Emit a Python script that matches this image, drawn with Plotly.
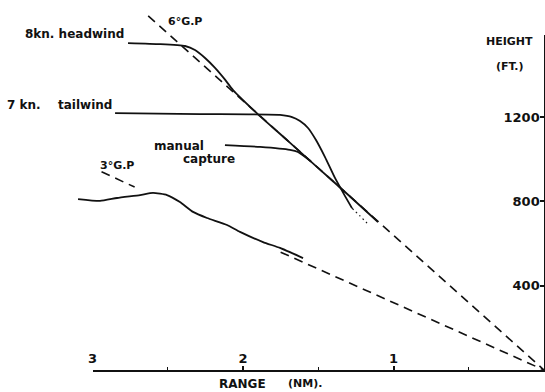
import plotly.graph_objects as go

# ---------------- data (range in NM, height in FT) ----------------
headwind_range = [2.764, 2.551, 2.385, 2.319, 2.252, 2.186, 2.118, 2.066, 1.9, 1.7, 1.5, 1.3, 1.103]
headwind_height = [1551, 1546, 1537, 1518, 1480, 1433, 1376, 1328, 1213, 1086, 958, 830, 702]

tailwind_range = [2.85, 2.286, 1.754, 1.674, 1.621, 1.568, 1.515, 1.455, 1.389, 1.322, 1.276]
tailwind_height = [1219, 1214, 1210, 1200, 1181, 1148, 1091, 1010, 911, 825, 768]
tailwind_dot_range = [1.276, 1.223, 1.176]
tailwind_dot_height = [768, 731, 697]

manual_range = [2.12, 1.887, 1.688, 1.635, 1.55]
manual_height = [1067, 1058, 1044, 1034, 990]

gp3_curve_range = [3.096, 2.950, 2.837, 2.684, 2.598, 2.505, 2.419, 2.332, 2.239, 2.106, 2.020, 1.867, 1.754, 1.601]
gp3_curve_height = [811, 802, 816, 830, 840, 830, 797, 750, 721, 688, 655, 607, 579, 531]

gp6_range = [2.63, 0.0]
gp6_height = [1680, 0]
gp3_range = [2.94, 2.72, None, 1.75, 0.0]
gp3_height = [940, 868, None, 559, 0]

x_tick_vals = [3, 2, 1]
x_tick_text = ["3", "2", "1"]
y_tick_vals = [400, 800, 1200]
y_tick_text = ["400", "800", "1200"]

# ---------------- layout geometry ----------------
W, H = 545, 392
X0 = 544.0       # pixel of range 0
PX_NM = 150.5    # pixels per NM
Y0 = 370.0       # pixel of height 0
PX_FT = 0.2108   # pixels per ft
H_TOP = 1590     # top of height axis

def px_to_r(px):
    return (X0 - px) / PX_NM

def py_to_h(py):
    return (Y0 - py) / PX_FT

BLACK = "#111111"
FONT = "DejaVu Sans"

fig = go.Figure()

def line(x, y, width=1.8, dash="solid"):
    fig.add_trace(go.Scatter(x=x, y=y, mode="lines", showlegend=False, hoverinfo="skip",
                             line=dict(color=BLACK, width=width, dash=dash, shape="spline", smoothing=0.5),
                             connectgaps=False))

line(gp6_range, gp6_height, 1.6, "9px,6px")
line(gp3_range, gp3_height, 1.6, "9px,6px")
line(gp3_curve_range, gp3_curve_height)
line(manual_range, manual_height)
line(tailwind_range, tailwind_height)
line(tailwind_dot_range, tailwind_dot_height, 1.2, "2px,3px")
line(headwind_range, headwind_height)

# dummy trace to make the visible axis subplot render
fig.add_trace(go.Scatter(x=[], y=[], xaxis="x2", yaxis="y2", showlegend=False))

x_lo = px_to_r(0)
x_hi = px_to_r(W)
y_lo = py_to_h(H)
y_hi = py_to_h(0)

fig.update_layout(
    width=W, height=H,
    margin=dict(l=0, r=0, t=0, b=0, autoexpand=False),
    paper_bgcolor="white", plot_bgcolor="rgba(0,0,0,0)",
    xaxis=dict(range=[x_lo, x_hi], visible=False, domain=[0, 1], automargin=False),
    yaxis=dict(range=[y_lo, y_hi], visible=False, domain=[0, 1], automargin=False),
    xaxis2=dict(domain=[(X0 - 3 * PX_NM) / W, X0 / W], range=[3, 0], anchor="y2",
                automargin=False,
                showline=True, linecolor=BLACK, linewidth=1.8, showgrid=False, zeroline=False,
                tickvals=x_tick_vals, ticktext=x_tick_text, ticks="inside", ticklen=4,
                tickcolor=BLACK, tickwidth=1.5, ticklabelposition="inside",
                ticklabeloverflow="allow",
                tickfont=dict(family=FONT, size=13, color=BLACK, weight="bold"),
                minor=dict(tickmode="linear", tick0=0, dtick=0.5, ticks="inside", ticklen=3,
                           tickcolor=BLACK, tickwidth=1.2)),
    yaxis2=dict(domain=[(H - Y0) / H, (H - (Y0 - H_TOP * PX_FT)) / H], range=[0, H_TOP],
                anchor="x2", side="right", automargin=False,
                showline=True, linecolor=BLACK, linewidth=1.8, showgrid=False, zeroline=False,
                tickvals=y_tick_vals, ticktext=y_tick_text, ticks="inside", ticklen=4,
                tickcolor=BLACK, tickwidth=1.5, ticklabelposition="inside",
                ticklabeloverflow="allow",
                tickfont=dict(family=FONT, size=13, color=BLACK, weight="bold")),
)

def label(text, cx, cy, size=12):
    fig.add_annotation(text=text, x=cx / W, y=1 - cy / H, xref="paper", yref="paper",
                       xanchor="center", yanchor="middle", showarrow=False,
                       font=dict(family=FONT, size=size, color=BLACK, weight="bold"))

label("8kn. headwind", 74, 34)
label("7 kn.", 23.5, 105)
label("tailwind", 84.5, 105)
label("manual", 178.5, 146)
label("capture", 209, 159)
label("3°G.P", 117, 165, 11)
label("6°G.P", 185, 21, 11)
label("HEIGHT", 509, 42, 11)
label("(FT.)", 510, 66, 11)
label("RANGE", 242, 384, 12)
label("(NM).", 305, 383, 11)

fig.write_html("out.html")
